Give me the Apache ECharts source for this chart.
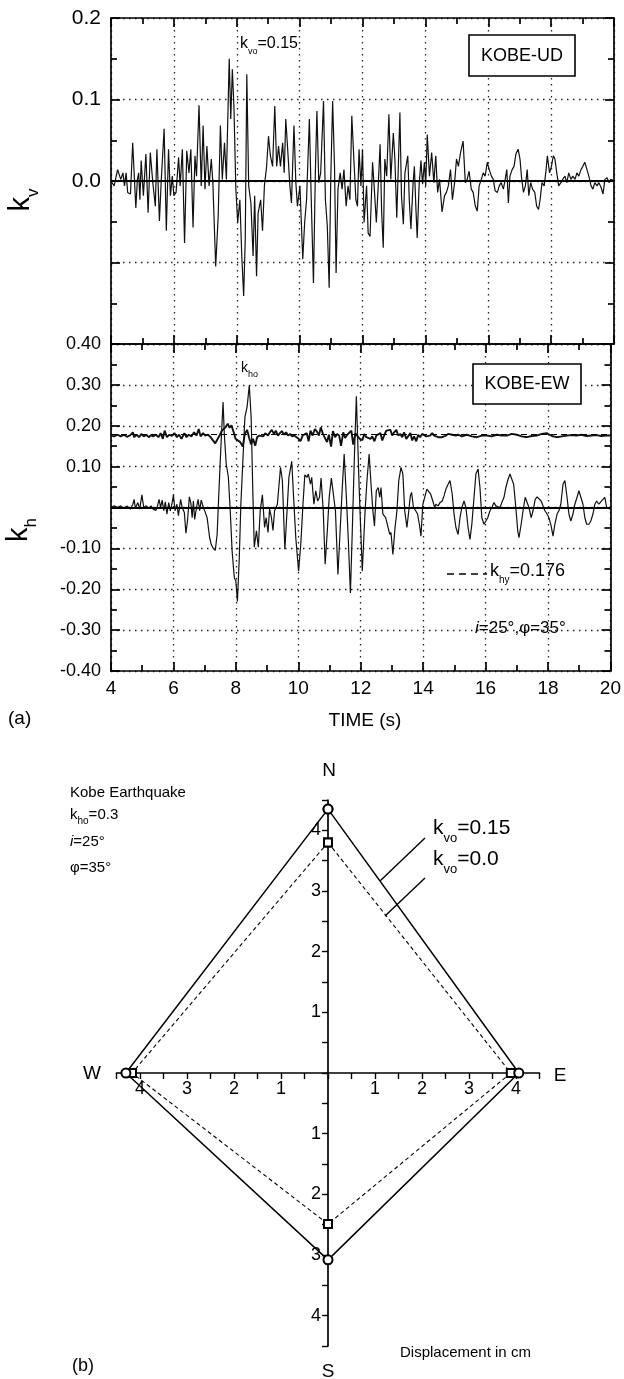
<!DOCTYPE html>
<html>
<head>
<meta charset="utf-8">
<script src="https://cdn.jsdelivr.net/npm/echarts@6/dist/echarts.min.js"></script>
<style>
html, body { margin: 0; padding: 0; background: #fff; }
#chart { width: 624px; height: 1379px; }
</style>
</head>
<body>
<div id="chart"></div>
<script>
// (a) KOBE-UD, vertical seismic coefficient kv  [time (s), kv]
var kvTrace = [
  [4.00,0.000],[4.10,-0.006],[4.21,0.014],[4.31,0.002],[4.38,0.010],[4.43,-0.006],[4.48,0.010],[4.53,-0.014],[4.62,-0.016],[4.69,0.047],
  [4.79,-0.033],[4.84,0.002],[4.88,0.010],[4.92,-0.023],[4.96,0.025],[5.03,-0.018],[5.11,0.033],[5.18,-0.039],[5.25,0.035],[5.33,-0.002],
  [5.41,-0.031],[5.46,0.039],[5.54,-0.049],[5.60,0.002],[5.69,0.064],[5.76,-0.061],[5.83,0.039],[5.89,-0.018],[5.95,0.006],[6.00,-0.018],
  [6.07,-0.014],[6.15,0.029],[6.20,-0.006],[6.27,0.039],[6.34,-0.076],[6.41,0.037],[6.48,0.010],[6.54,0.039],[6.61,-0.057],[6.67,0.031],
  [6.72,0.006],[6.80,0.093],[6.87,-0.006],[6.93,0.068],[6.99,-0.010],[7.05,0.043],[7.12,-0.006],[7.19,0.027],[7.24,-0.002],[7.33,-0.105],
  [7.41,-0.043],[7.48,0.068],[7.54,0.002],[7.61,0.047],[7.67,0.002],[7.76,0.150],[7.81,0.076],[7.86,0.137],[7.91,0.092],[7.97,-0.008],
  [8.03,-0.051],[8.10,-0.023],[8.16,-0.092],[8.22,-0.141],[8.27,-0.072],[8.32,0.131],[8.38,-0.006],[8.45,-0.027],[8.52,-0.092],[8.57,-0.018],
  [8.63,-0.117],[8.68,-0.039],[8.76,-0.023],[8.82,-0.061],[8.88,-0.006],[8.95,0.018],[9.01,0.055],[9.07,0.031],[9.14,0.018],[9.21,0.092],
  [9.27,0.018],[9.33,0.043],[9.39,0.018],[9.46,0.047],[9.51,0.010],[9.56,0.076],[9.62,0.039],[9.69,-0.006],[9.74,-0.027],[9.82,0.068],
  [9.88,-0.002],[9.93,-0.031],[10.01,-0.006],[10.10,-0.096],[10.16,-0.051],[10.22,-0.023],[10.31,0.076],[10.37,-0.023],[10.44,-0.125],[10.50,0.010],
  [10.55,0.086],[10.61,-0.002],[10.67,0.010],[10.76,0.098],[10.82,-0.023],[10.88,-0.055],[10.94,-0.131],[10.99,0.002],[11.05,0.098],[11.11,0.018],
  [11.16,-0.113],[11.22,-0.010],[11.29,0.010],[11.35,-0.010],[11.41,0.014],[11.48,-0.031],[11.54,-0.006],[11.60,-0.023],[11.66,0.080],[11.73,0.023],
  [11.79,-0.023],[11.84,-0.031],[11.89,0.039],[11.95,-0.006],[12.00,0.039],[12.05,-0.051],[12.13,-0.006],[12.18,-0.064],[12.24,-0.068],[12.32,0.023],
  [12.37,-0.006],[12.44,-0.051],[12.50,-0.006],[12.56,0.045],[12.61,-0.039],[12.66,-0.082],[12.71,0.027],[12.77,0.006],[12.84,0.082],[12.90,0.002],
  [12.98,0.059],[13.03,0.027],[13.09,-0.045],[13.14,0.018],[13.19,0.084],[13.24,-0.018],[13.30,-0.053],[13.35,0.010],[13.44,0.031],[13.49,-0.025],
  [13.54,-0.059],[13.61,-0.002],[13.65,0.018],[13.70,-0.035],[13.74,-0.070],[13.80,-0.006],[13.86,0.025],[13.91,-0.004],[13.97,0.023],[14.01,-0.006],
  [14.06,0.057],[14.13,0.006],[14.20,0.035],[14.27,-0.002],[14.33,0.031],[14.39,-0.014],[14.45,0.002],[14.53,-0.038],[14.61,-0.018],[14.67,-0.014],
  [14.73,-0.006],[14.80,0.014],[14.86,-0.023],[14.93,-0.002],[14.99,0.027],[15.05,0.018],[15.12,0.035],[15.20,0.049],[15.27,-0.002],[15.33,0.002],
  [15.39,0.012],[15.46,-0.010],[15.52,-0.014],[15.59,-0.031],[15.65,-0.037],[15.71,-0.006],[15.78,0.002],[15.84,0.010],[15.90,0.006],[15.97,0.023],
  [16.03,0.014],[16.10,0.006],[16.16,0.002],[16.22,-0.012],[16.29,-0.014],[16.35,-0.006],[16.41,-0.002],[16.48,-0.010],[16.54,0.002],[16.59,0.014],
  [16.64,-0.027],[16.69,0.006],[16.76,0.014],[16.82,0.018],[16.88,0.033],[16.95,0.039],[17.01,0.027],[17.06,0.004],[17.12,-0.014],[17.18,-0.006],
  [17.24,0.014],[17.29,-0.018],[17.35,-0.002],[17.41,-0.010],[17.48,-0.014],[17.54,-0.031],[17.60,-0.035],[17.65,-0.023],[17.71,-0.002],[17.78,-0.006],
  [17.84,0.014],[17.88,0.031],[17.95,0.010],[18.01,0.018],[18.07,0.031],[18.12,0.027],[18.18,0.010],[18.24,-0.006],[18.31,-0.002],[18.37,0.002],
  [18.44,0.006],[18.50,-0.002],[18.56,0.010],[18.63,0.002],[18.69,0.006],[18.76,0.002],[18.82,0.010],[18.88,0.006],[18.95,0.014],[19.01,0.018],
  [19.07,0.023],[19.14,0.014],[19.20,0.006],[19.27,-0.006],[19.33,-0.010],[19.39,-0.002],[19.46,-0.006],[19.52,-0.002],[19.59,-0.008],[19.65,-0.016],
  [19.71,0.002],[19.78,0.004],[19.84,-0.002],[19.90,0.002],[20.00,0.000]
];

// (a) KOBE-EW, horizontal seismic coefficient kh  [time (s), kh]
var khTrace = [
  [4.00,0.000],[4.10,0.004],[4.21,0.000],[4.31,0.004],[4.41,-0.002],[4.51,0.004],[4.62,-0.004],[4.70,0.008],[4.74,0.020],[4.78,-0.002],
  [4.86,0.012],[4.92,-0.004],[4.99,0.031],[5.05,0.000],[5.13,0.004],[5.21,-0.002],[5.28,0.004],[5.35,-0.004],[5.44,-0.007],[5.49,0.004],
  [5.54,0.020],[5.59,0.000],[5.64,0.018],[5.69,-0.008],[5.74,0.014],[5.79,-0.016],[5.85,0.012],[5.90,-0.008],[5.95,0.008],[6.00,0.031],
  [6.05,-0.008],[6.11,0.008],[6.16,-0.020],[6.23,0.020],[6.28,0.000],[6.35,-0.012],[6.40,-0.063],[6.45,-0.033],[6.51,0.026],[6.56,0.010],
  [6.60,-0.025],[6.64,0.016],[6.68,-0.029],[6.74,0.000],[6.79,0.020],[6.84,-0.008],[6.89,0.018],[6.96,0.000],[7.02,-0.012],[7.08,-0.025],
  [7.16,-0.074],[7.21,-0.090],[7.26,-0.098],[7.34,-0.105],[7.40,-0.066],[7.44,0.008],[7.51,0.131],[7.59,0.258],[7.63,0.180],[7.69,0.107],
  [7.76,0.074],[7.82,-0.008],[7.88,-0.107],[7.95,-0.172],[8.00,-0.180],[8.05,-0.230],[8.11,-0.123],[8.16,0.008],[8.23,0.123],[8.29,0.221],
  [8.36,0.246],[8.43,0.299],[8.49,0.221],[8.54,0.049],[8.59,-0.097],[8.66,-0.057],[8.72,-0.097],[8.78,-0.008],[8.85,0.031],[8.92,-0.049],
  [8.97,-0.025],[9.03,-0.061],[9.08,-0.004],[9.14,-0.025],[9.19,-0.056],[9.24,-0.008],[9.33,0.008],[9.43,0.098],[9.49,0.066],[9.57,-0.102],
  [9.64,-0.008],[9.70,0.074],[9.79,0.113],[9.85,0.025],[9.92,-0.074],[10.01,-0.156],[10.08,-0.090],[10.15,0.008],[10.21,0.080],[10.28,0.074],
  [10.32,0.082],[10.39,0.057],[10.43,0.074],[10.50,0.008],[10.56,0.041],[10.62,0.016],[10.68,0.025],[10.73,0.072],[10.80,-0.008],[10.86,-0.139],
  [10.93,-0.057],[10.99,0.025],[11.06,0.072],[11.12,0.075],[11.19,-0.008],[11.27,-0.164],[11.34,-0.057],[11.41,0.049],[11.47,0.131],[11.54,0.025],
  [11.60,-0.074],[11.67,-0.209],[11.73,-0.057],[11.80,0.131],[11.86,0.272],[11.95,0.049],[12.05,-0.156],[12.14,-0.008],[12.20,0.066],[12.27,0.131],
  [12.33,0.057],[12.39,-0.008],[12.44,-0.045],[12.50,0.041],[12.56,0.049],[12.61,0.025],[12.65,0.049],[12.71,-0.016],[12.76,-0.016],[12.80,-0.025],
  [12.86,-0.029],[12.93,-0.066],[12.97,-0.061],[13.03,-0.115],[13.10,-0.049],[13.16,-0.008],[13.22,0.066],[13.29,0.098],[13.35,0.082],[13.41,-0.008],
  [13.48,-0.049],[13.54,-0.008],[13.59,0.029],[13.63,0.037],[13.69,0.000],[13.76,-0.008],[13.82,-0.016],[13.88,-0.041],[13.93,-0.070],[13.99,0.008],
  [14.05,0.025],[14.12,0.045],[14.18,0.049],[14.24,0.033],[14.31,0.016],[14.37,0.000],[14.41,0.008],[14.48,0.004],[14.54,0.012],[14.61,0.016],
  [14.67,0.029],[14.73,0.045],[14.80,0.057],[14.86,0.066],[14.93,0.033],[14.99,-0.016],[15.05,-0.049],[15.12,-0.066],[15.18,-0.025],[15.24,0.000],
  [15.31,0.016],[15.37,0.000],[15.44,-0.049],[15.50,-0.078],[15.56,-0.041],[15.63,0.025],[15.69,0.082],[15.76,0.094],[15.82,0.049],[15.88,-0.025],
  [15.95,-0.041],[16.01,-0.037],[16.07,-0.025],[16.14,-0.008],[16.20,0.000],[16.27,0.012],[16.33,0.004],[16.39,0.008],[16.46,0.000],[16.52,0.012],
  [16.59,0.025],[16.65,0.049],[16.71,0.066],[16.78,0.082],[16.84,0.084],[16.90,0.057],[16.97,0.000],[17.03,-0.057],[17.07,-0.074],[17.14,-0.041],
  [17.20,-0.008],[17.27,0.025],[17.33,0.029],[17.39,0.000],[17.46,-0.025],[17.52,-0.008],[17.59,0.020],[17.65,0.026],[17.71,0.025],[17.78,0.016],
  [17.84,0.012],[17.90,-0.008],[17.97,-0.016],[18.03,-0.025],[18.10,-0.045],[18.16,-0.070],[18.22,-0.041],[18.29,-0.016],[18.35,-0.008],[18.41,0.008],
  [18.48,0.057],[18.54,0.066],[18.61,0.025],[18.67,-0.016],[18.73,-0.033],[18.80,-0.016],[18.86,0.008],[18.93,0.025],[18.99,0.041],[19.05,0.045],
  [19.12,0.008],[19.18,-0.025],[19.24,-0.041],[19.31,-0.041],[19.37,-0.033],[19.44,-0.016],[19.50,0.008],[19.56,0.016],[19.63,0.008],[19.69,0.012],
  [19.76,0.020],[19.82,0.025],[19.88,0.000],[19.98,-0.004]
];

// (a) yield coefficient line (varies with kv)  [time (s), khy]
var khyTrace = [
  [4.00,0.176],[4.10,0.174],[4.21,0.178],[4.31,0.174],[4.41,0.178],[4.51,0.173],[4.62,0.177],[4.70,0.184],[4.74,0.172],[4.82,0.178],
  [4.90,0.172],[4.97,0.180],[5.05,0.174],[5.13,0.178],[5.21,0.172],[5.28,0.177],[5.35,0.174],[5.44,0.178],[5.52,0.172],[5.59,0.182],
  [5.66,0.168],[5.72,0.188],[5.79,0.172],[5.87,0.178],[5.95,0.175],[6.03,0.182],[6.11,0.172],[6.18,0.178],[6.26,0.168],[6.35,0.182],
  [6.42,0.172],[6.49,0.178],[6.58,0.174],[6.66,0.184],[6.74,0.176],[6.81,0.192],[6.87,0.174],[6.95,0.182],[7.02,0.176],[7.11,0.178],
  [7.19,0.172],[7.26,0.165],[7.34,0.157],[7.42,0.168],[7.48,0.176],[7.55,0.188],[7.61,0.184],[7.67,0.196],[7.74,0.205],[7.80,0.195],
  [7.86,0.201],[7.93,0.184],[7.99,0.168],[8.05,0.172],[8.14,0.160],[8.22,0.149],[8.29,0.180],[8.36,0.190],[8.42,0.172],[8.49,0.154],
  [8.55,0.168],[8.62,0.151],[8.68,0.172],[8.75,0.176],[8.81,0.180],[8.88,0.174],[8.94,0.182],[9.03,0.176],[9.09,0.184],[9.15,0.190],
  [9.22,0.180],[9.28,0.188],[9.35,0.176],[9.41,0.182],[9.48,0.187],[9.54,0.178],[9.61,0.184],[9.67,0.176],[9.74,0.180],[9.80,0.174],
  [9.87,0.176],[9.93,0.172],[10.01,0.168],[10.07,0.162],[10.14,0.176],[10.20,0.172],[10.27,0.182],[10.33,0.162],[10.39,0.188],[10.46,0.176],
  [10.53,0.192],[10.59,0.187],[10.66,0.176],[10.72,0.196],[10.79,0.180],[10.85,0.182],[10.92,0.160],[10.98,0.178],[11.05,0.149],[11.11,0.187],
  [11.18,0.172],[11.24,0.180],[11.31,0.176],[11.37,0.151],[11.44,0.184],[11.50,0.170],[11.57,0.178],[11.63,0.176],[11.70,0.188],[11.76,0.154],
  [11.83,0.182],[11.89,0.175],[11.97,0.168],[12.05,0.165],[12.12,0.180],[12.18,0.172],[12.24,0.176],[12.31,0.168],[12.37,0.174],[12.44,0.162],
  [12.50,0.176],[12.56,0.172],[12.63,0.182],[12.69,0.164],[12.76,0.178],[12.82,0.188],[12.88,0.184],[12.95,0.190],[13.01,0.176],[13.07,0.184],
  [13.14,0.190],[13.20,0.176],[13.27,0.180],[13.33,0.172],[13.39,0.184],[13.46,0.168],[13.52,0.172],[13.59,0.182],[13.65,0.164],[13.71,0.174],
  [13.78,0.162],[13.84,0.178],[13.90,0.172],[13.97,0.180],[14.03,0.184],[14.10,0.174],[14.16,0.178],[14.22,0.176],[14.29,0.182],[14.35,0.176],
  [14.41,0.178],[14.48,0.172],[14.54,0.168],[14.61,0.172],[14.67,0.176],[14.73,0.176],[14.80,0.180],[14.86,0.176],[14.93,0.178],[14.99,0.180],
  [15.05,0.176],[15.12,0.178],[15.24,0.174],[15.40,0.178],[15.56,0.174],[15.72,0.172],[15.88,0.176],[16.04,0.176],[16.20,0.174],[16.36,0.178],
  [16.52,0.176],[16.68,0.176],[16.84,0.180],[17.00,0.178],[17.16,0.174],[17.32,0.172],[17.48,0.175],[17.64,0.176],[17.80,0.180],[17.96,0.182],
  [18.12,0.175],[18.28,0.172],[18.44,0.174],[18.60,0.176],[18.76,0.177],[18.91,0.176],[19.07,0.178],[19.23,0.175],[19.39,0.176],[19.55,0.177],
  [19.71,0.175],[19.87,0.176],[20.00,0.176]
];
var khyLevel = 0.176;

// (b) maximum displacement (cm) toward N, E, S, W
var compassDirs = ['N', 'E', 'S', 'W'];
var dispKv015 = [4.35, 4.06, 3.08, 4.30];
var dispKv000 = [3.80, 3.89, 2.49, 4.17];

var FONT = 'Liberation Sans, Arial, sans-serif';
var BLACK = '#000';

function diamond(vals) {
  // N, E, S, W then back to N
  return [[0, vals[0]], [vals[1], 0], [0, -vals[2]], [-vals[3], 0], [0, vals[0]]];
}

function timeAxis(grid, pos, showLabel, showSplit) {
  return {
    type: 'value', gridIndex: grid, position: pos,
    min: 4, max: 20, interval: 2,
    axisLine: { onZero: false, lineStyle: { color: BLACK, width: 1.7 } },
    axisTick: { inside: true, length: 9, lineStyle: { color: BLACK, width: 1.7 } },
    minorTick: { show: true, splitNumber: 2, length: 6, lineStyle: { color: BLACK, width: 1.7 } },
    axisLabel: { show: showLabel, color: BLACK, fontSize: 19, fontFamily: FONT, margin: 8 },
    splitLine: { show: showSplit, lineStyle: { color: '#222', width: 1.3, type: [1.5, 4.5] } }
  };
}

function kAxis(grid, pos, min, max, labelFn, fontSize, showSplit) {
  return {
    type: 'value', gridIndex: grid, position: pos,
    min: min, max: max, interval: 0.1,
    axisLine: { onZero: false, lineStyle: { color: BLACK, width: 1.7 } },
    axisTick: { inside: true, length: 9, lineStyle: { color: BLACK, width: 1.7 } },
    minorTick: { show: true, splitNumber: 2, length: 6, lineStyle: { color: BLACK, width: 1.7 } },
    axisLabel: { show: !!labelFn, formatter: labelFn, color: BLACK, fontSize: fontSize, fontFamily: FONT, margin: 10 },
    splitLine: { show: showSplit, lineStyle: { color: '#222', width: 1.3, type: [1.5, 4.5] } }
  };
}

// displacement axis of panel (b); visible ones sit on a grid edge that runs through the origin
function dispAxis(grid, pos, visible) {
  return {
    type: 'value', gridIndex: grid, position: pos, show: visible,
    min: -4.5, max: 4.5, interval: 0.5,
    axisLine: { onZero: false, lineStyle: { color: BLACK, width: 1.7 } },
    axisTick: { length: 6, lineStyle: { color: BLACK, width: 1.4 } },
    axisLabel: {
      color: BLACK, fontSize: 18, fontFamily: FONT, margin: 7,
      formatter: function (v) {
        var a = Math.abs(v);
        return (a % 1 === 0 && a !== 0) ? String(a) : '';
      }
    },
    splitLine: { show: false }
  };
}

function hiddenAxis(grid) {
  return { type: 'value', gridIndex: grid, show: false, min: 0, max: 1, splitLine: { show: false } };
}

function label(x, y, text, size, align, extra) {
  var el = {
    type: 'text', x: x, y: y, z: 50,
    style: {
      text: text, fill: BLACK, fontSize: size, fontFamily: FONT,
      align: align || 'left', verticalAlign: 'middle',
      textAlign: align || 'left', textVerticalAlign: 'middle'
    }
  };
  if (extra) {
    if (extra.rich) el.style.rich = extra.rich;
    if (extra.rotation) el.rotation = extra.rotation;
  }
  return el;
}

function subRich(big, small, drop) {
  return {
    b: { fontSize: big, fontFamily: FONT, fill: BLACK, padding: [0, 0, drop, 0], verticalAlign: 'bottom' },
    s: { fontSize: small, fontFamily: FONT, fill: BLACK, verticalAlign: 'bottom' },
    i: { fontSize: big, fontFamily: FONT, fontStyle: 'italic', fill: BLACK, padding: [0, 0, drop, 0], verticalAlign: 'bottom' }
  };
}

function box(x, y, w, h) {
  return { type: 'rect', z: 40, shape: { x: x, y: y, width: w, height: h },
    style: { fill: '#fff', stroke: BLACK, lineWidth: 1.6 } };
}

function seg(x1, y1, x2, y2, dash) {
  return { type: 'line', z: 40, shape: { x1: x1, y1: y1, x2: x2, y2: y2 },
    style: { stroke: BLACK, lineWidth: 1.4, lineDash: dash || null } };
}

var chart = echarts.init(document.getElementById('chart'), null, { renderer: 'canvas' });

var option = {
  animation: false,
  backgroundColor: '#fff',
  textStyle: { fontFamily: FONT, color: BLACK },
  grid: [
    { left: 111, top: 18, width: 503, height: 326 },
    { left: 111, top: 344, width: 503, height: 327 },
    { left: 116.5, top: 800, width: 423, height: 546 },   // (b) data
    { left: 328, top: 800, width: 211.5, height: 546 },   // (b) N-S axis
    { left: 116.5, top: 800, width: 423, height: 273 }    // (b) W-E axis
  ],
  xAxis: [
    timeAxis(0, 'bottom', false, true),
    timeAxis(0, 'top', false, false),
    timeAxis(1, 'bottom', true, true),
    timeAxis(1, 'top', false, false),
    dispAxis(2, 'bottom', false),
    hiddenAxis(3),
    dispAxis(4, 'bottom', true)
  ],
  yAxis: [
    kAxis(0, 'left', -0.2, 0.2, function (v) { return v > -0.001 ? v.toFixed(1) : ''; }, 21, true),
    kAxis(0, 'right', -0.2, 0.2, null, 18, false),
    kAxis(1, 'left', -0.4, 0.4, function (v) { return Math.abs(v) < 0.001 ? '' : v.toFixed(2); }, 18, true),
    kAxis(1, 'right', -0.4, 0.4, null, 18, false),
    dispAxis(2, 'left', false),
    dispAxis(3, 'left', true),
    hiddenAxis(4)
  ],
  series: [
    {
      name: 'KOBE-UD', type: 'line', xAxisIndex: 0, yAxisIndex: 0, data: kvTrace,
      showSymbol: false, lineStyle: { color: '#111', width: 1.2 },
      markLine: { silent: true, symbol: 'none', label: { show: false },
        lineStyle: { color: BLACK, width: 2.2, type: 'solid' }, data: [{ yAxis: 0 }] }
    },
    {
      name: 'khy', type: 'line', xAxisIndex: 2, yAxisIndex: 2, data: khyTrace,
      showSymbol: false, lineStyle: { color: '#111', width: 1.9 },
      markLine: { silent: true, symbol: 'none', label: { show: false },
        lineStyle: { color: BLACK, width: 1, type: [6, 4] }, data: [{ yAxis: khyLevel }] }
    },
    {
      name: 'KOBE-EW', type: 'line', xAxisIndex: 2, yAxisIndex: 2, data: khTrace,
      showSymbol: false, lineStyle: { color: '#111', width: 1.2 },
      markLine: { silent: true, symbol: 'none', label: { show: false },
        lineStyle: { color: BLACK, width: 2.2, type: 'solid' }, data: [{ yAxis: 0 }] }
    },
    {
      name: 'kvo=0.15', type: 'line', xAxisIndex: 4, yAxisIndex: 4, data: diamond(dispKv015),
      symbol: 'emptyCircle', symbolSize: 9, z: 5,
      lineStyle: { color: BLACK, width: 1.5 }, itemStyle: { color: BLACK, borderWidth: 1.2 }
    },
    {
      name: 'kvo=0.0', type: 'line', xAxisIndex: 4, yAxisIndex: 4, data: diamond(dispKv000),
      symbol: 'emptyRect', symbolSize: 8, z: 4,
      lineStyle: { color: BLACK, width: 1.1, type: [4, 3] }, itemStyle: { color: BLACK, borderWidth: 1.2 }
    }
  ],
  graphic: [
    // panel (a)
    label(24, 200, '{b|k}{s|v}', 26, 'center', { rich: subRich(29, 17, 6), rotation: Math.PI / 2 }),
    label(22, 530, '{b|k}{s|h}', 26, 'center', { rich: subRich(29, 17, 6), rotation: Math.PI / 2 }),
    label(240, 46, '{b|k}{s|vo}{b|=0.15}', 15, 'left', { rich: subRich(16, 9, 4) }),
    box(469, 35, 106, 41),
    label(522, 56, 'KOBE-UD', 18, 'center'),
    label(241, 370, '{b|k}{s|ho}', 13, 'left', { rich: subRich(14, 9, 4) }),
    box(473, 364, 108, 40),
    label(527, 384, 'KOBE-EW', 18, 'center'),
    seg(447, 574, 487, 574, [7, 5]),
    label(490, 574, '{b|k}{s|hy}{b|=0.176}', 17, 'left', { rich: subRich(18, 10, 5) }),
    label(475, 628, '{i|i}{b|=25°,φ=35°}', 16, 'left', { rich: subRich(17, 10, 0) }),
    label(365, 721, 'TIME (s)', 19, 'center'),
    label(8, 719, '(a)', 19, 'left'),
    // panel (b)
    label(329, 771, 'N', 19, 'center'),
    label(328, 1372, 'S', 19, 'center'),
    label(92, 1074, 'W', 19, 'center'),
    label(560, 1076, 'E', 19, 'center'),
    label(70, 793, 'Kobe Earthquake', 15, 'left'),
    label(70, 817, '{b|k}{s|ho}{b|=0.3}', 15, 'left', { rich: subRich(15, 10, 4) }),
    label(70, 842, '{i|i}{b|=25°}', 15, 'left', { rich: subRich(15, 10, 0) }),
    label(70, 868, 'φ=35°', 15, 'left'),
    label(433, 831, '{b|k}{s|vo}{b|=0.15}', 21, 'left', { rich: subRich(21, 13, 6) }),
    label(433, 862, '{b|k}{s|vo}{b|=0.0}', 21, 'left', { rich: subRich(21, 13, 6) }),
    seg(425, 838, 380, 881),
    seg(425, 878, 385, 916),
    label(400, 1353, 'Displacement in cm', 15, 'left'),
    label(72, 1366, '(b)', 18, 'left')
  ]
};

chart.setOption(option);
window.addEventListener('resize', chart.resize);
</script>
</body>
</html>
